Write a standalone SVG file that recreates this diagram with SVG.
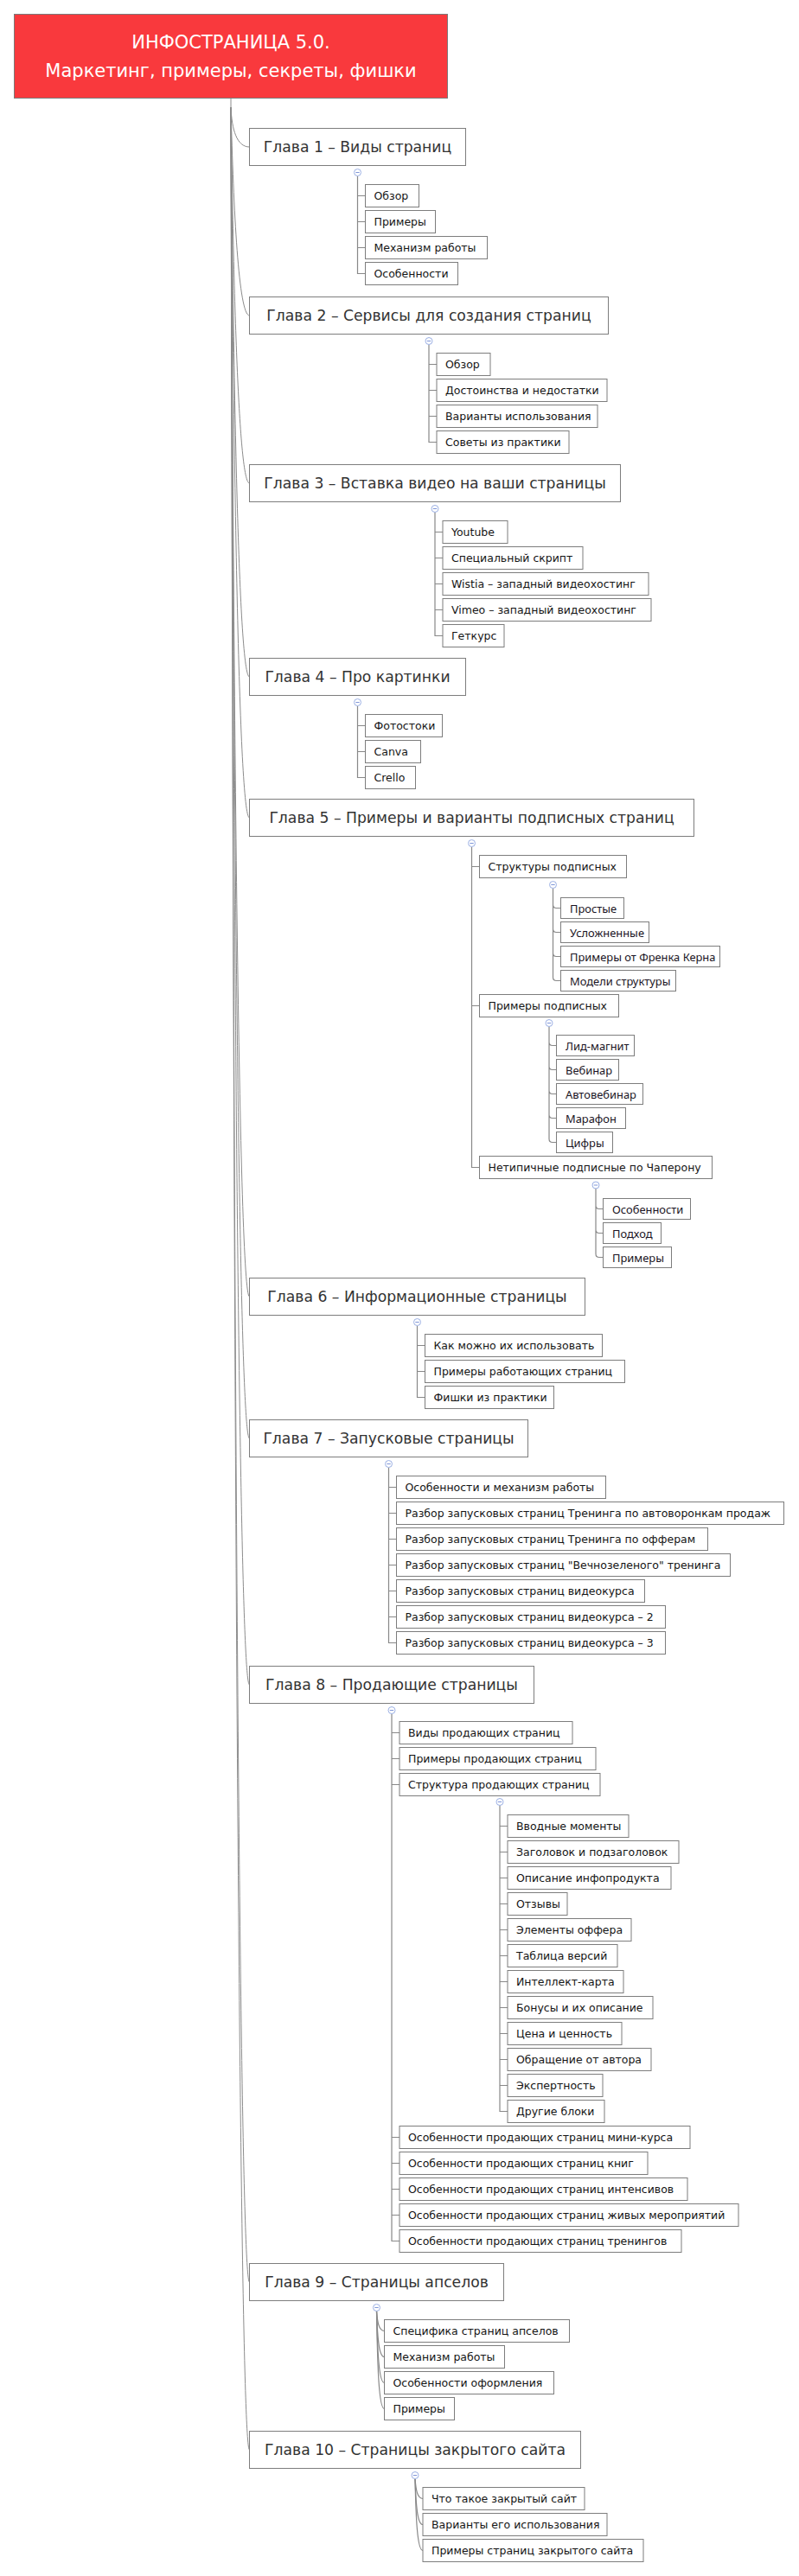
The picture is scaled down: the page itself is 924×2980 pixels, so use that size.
<svg xmlns="http://www.w3.org/2000/svg" xmlns:xlink="http://www.w3.org/1999/xlink" width="924" height="2980" viewBox="0 0 924 2980">
<style>
.bg{fill:#ffffff}
.root{fill:#f9393d;stroke:#7a7a7a;stroke-width:1}
.rt{font-family:"DejaVu Sans","Liberation Sans",sans-serif;font-size:21px;fill:#ffffff;text-anchor:middle}
.box{fill:#ffffff;stroke:#7d7d7d;stroke-width:1}
.ch{font-family:"DejaVu Sans","Liberation Sans",sans-serif;font-size:17.2px;fill:#333333;text-anchor:middle}
.t{font-family:"DejaVu Sans","Liberation Sans",sans-serif;font-size:12.5px;fill:#151515}
.s{font-family:"Noto Sans","Open Sans","Liberation Sans",sans-serif;font-size:12.9px;fill:#1a1424}
.ln{fill:none;stroke:#888888;stroke-width:1.2}
.tr{fill:none;stroke:#8c8c8c;stroke-width:1}
.tg circle{fill:#ffffff;stroke:#9bb0e4;stroke-width:1}
.tg line{stroke:#7f96d8;stroke-width:1}
</style>
<defs>
<g id="tog" class="tg"><circle cx="0" cy="0" r="4"/><line x1="-2.2" y1="0" x2="2.2" y2="0"/></g>
</defs>
<rect class="bg" x="0" y="0" width="924" height="2980"/>

<g id="connectors">
  <path class="tr" d="M267,114 V124"/>
  <path class="tr" d="M267,124 C268,150 274,170 288.5,170"/>
  <path class="tr" d="M267,124 C270,244 276,365 288.5,365"/>
  <path class="tr" d="M267,124 C270,341 276,559 288.5,559"/>
  <path class="tr" d="M267,124 C270,453 276,783 288.5,783"/>
  <path class="tr" d="M267,124 C270,535 276,946 288.5,946"/>
  <path class="tr" d="M267,124 C270,812 276,1500 288.5,1500"/>
  <path class="tr" d="M267,124 C270,894 276,1664 288.5,1664"/>
  <path class="tr" d="M267,124 C270,1036 276,1949 288.5,1949"/>
  <path class="tr" d="M267,124 C270,1382 276,2640 288.5,2640"/>
  <path class="tr" d="M267,124 C270,1479 276,2834 288.5,2834"/>

  <path class="ln" d="M413.5,203.5 V316.5 H422.5 M413.5,226.5 H422.5 M413.5,256.5 H422.5 M413.5,286.5 H422.5"/>
  <path class="ln" d="M496,398.5 V511.5 H505 M496,421.5 H505 M496,451.5 H505 M496,481.5 H505"/>
  <path class="ln" d="M503,592.5 V735.5 H512 M503,615.5 H512 M503,645.5 H512 M503,675.5 H512 M503,705.5 H512"/>
  <path class="ln" d="M413.5,816.5 V899.5 H422.5 M413.5,839.5 H422.5 M413.5,869.5 H422.5"/>
  <path class="ln" d="M545.5,979.5 V1350.5 H554.5 M545.5,1002.5 H554.5 M545.5,1163.5 H554.5"/>
  <path class="ln" d="M639.5,1027.5 V1046.5 Q639.5,1050.5 643.5,1050.5 H648.5 M639.5,1046.5 V1074.5 Q639.5,1078.5 643.5,1078.5 H648.5 M639.5,1074.5 V1102.5 Q639.5,1106.5 643.5,1106.5 H648.5 M639.5,1102.5 V1130.5 Q639.5,1134.5 643.5,1134.5 H648.5"/>
  <path class="ln" d="M635,1187.5 V1205.5 Q635,1209.5 639,1209.5 H643.5 M635,1205.5 V1233.5 Q635,1237.5 639,1237.5 H643.5 M635,1233.5 V1261.5 Q635,1265.5 639,1265.5 H643.5 M635,1261.5 V1289.5 Q635,1293.5 639,1293.5 H643.5 M635,1289.5 V1317.5 Q635,1321.5 639,1321.5 H643.5"/>
  <path class="ln" d="M689,1375 V1394.5 Q689,1398.5 693,1398.5 H697.5 M689,1394.5 V1422.5 Q689,1426.5 693,1426.5 H697.5 M689,1422.5 V1450.5 Q689,1454.5 693,1454.5 H697.5"/>
  <path class="ln" d="M482.5,1533.5 V1616.5 H491.5 M482.5,1556.5 H491.5 M482.5,1586.5 H491.5"/>
  <path class="ln" d="M449.5,1697.5 V1900.5 H458.5 M449.5,1720.5 H458.5 M449.5,1750.5 H458.5 M449.5,1780.5 H458.5 M449.5,1810.5 H458.5 M449.5,1840.5 H458.5 M449.5,1870.5 H458.5"/>
  <path class="ln" d="M453,1982.5 V2592.5 H462 M453,2004.5 H462 M453,2034.5 H462 M453,2064.5 H462 M453,2472.5 H462 M453,2502.5 H462 M453,2532.5 H462 M453,2562.5 H462"/>
  <path class="ln" d="M578,2088.5 V2442.5 H587 M578,2112.5 H587 M578,2142.5 H587 M578,2172.5 H587 M578,2202.5 H587 M578,2232.5 H587 M578,2262.5 H587 M578,2292.5 H587 M578,2322.5 H587 M578,2352.5 H587 M578,2382.5 H587 M578,2412.5 H587"/>
  <path class="ln" d="M435.5,2673.5 C436.5,2686 438,2696.5 444.5,2696.5"/>
  <path class="ln" d="M435.5,2673.5 C436.5,2703 438,2726.5 444.5,2726.5"/>
  <path class="ln" d="M435.5,2673.5 C436.5,2719 438,2756.5 444.5,2756.5"/>
  <path class="ln" d="M435.5,2673.5 C436.5,2736 438,2786.5 444.5,2786.5"/>
  <path class="ln" d="M480,2867.5 C481,2880 482.5,2890.5 489,2890.5"/>
  <path class="ln" d="M480,2867.5 C481,2897 482.5,2920.5 489,2920.5"/>
  <path class="ln" d="M480,2867.5 C481,2913 482.5,2950.5 489,2950.5"/>

  <use xlink:href="#tog" href="#tog" x="413.5" y="199.5"/>
  <use xlink:href="#tog" href="#tog" x="496" y="394.5"/>
  <use xlink:href="#tog" href="#tog" x="503" y="588.5"/>
  <use xlink:href="#tog" href="#tog" x="413.5" y="812.5"/>
  <use xlink:href="#tog" href="#tog" x="545.5" y="975.5"/>
  <use xlink:href="#tog" href="#tog" x="639.5" y="1023.5"/>
  <use xlink:href="#tog" href="#tog" x="635" y="1183.5"/>
  <use xlink:href="#tog" href="#tog" x="689" y="1371"/>
  <use xlink:href="#tog" href="#tog" x="482.5" y="1529.5"/>
  <use xlink:href="#tog" href="#tog" x="449.5" y="1693.5"/>
  <use xlink:href="#tog" href="#tog" x="453" y="1978.5"/>
  <use xlink:href="#tog" href="#tog" x="578" y="2084.5"/>
  <use xlink:href="#tog" href="#tog" x="435.5" y="2669.5"/>
  <use xlink:href="#tog" href="#tog" x="480" y="2863.5"/>
</g>

<g id="root">
  <rect class="root" x="16.5" y="16.5" width="501" height="97"/>
  <text class="rt" x="267" y="56">ИНФОСТРАНИЦА 5.0.</text>
  <text class="rt" x="267" y="89">Маркетинг, примеры, секреты, фишки</text>
</g>

<g id="ch1"><rect class="box" x="288.5" y="148.5" width="250" height="43"/><text class="ch" x="413.5" y="175.5">Глава 1 – Виды страниц</text></g>
<g id="ch1-1"><rect class="box" x="422.5" y="213.5" width="62" height="26"/><text class="t" x="432.5" y="231">Обзор</text></g>
<g id="ch1-2"><rect class="box" x="422.5" y="243.5" width="81" height="26"/><text class="t" x="432.5" y="261">Примеры</text></g>
<g id="ch1-3"><rect class="box" x="422.5" y="273.5" width="141" height="26"/><text class="t" x="432.5" y="291">Механизм работы</text></g>
<g id="ch1-4"><rect class="box" x="422.5" y="303.5" width="107" height="26"/><text class="t" x="432.5" y="321">Особенности</text></g>

<g id="ch2"><rect class="box" x="288.5" y="343.5" width="415" height="43"/><text class="ch" x="496" y="370.5">Глава 2 – Сервисы для создания страниц</text></g>
<g id="ch2-1"><rect class="box" x="505" y="408.5" width="62" height="26"/><text class="t" x="515" y="426">Обзор</text></g>
<g id="ch2-2"><rect class="box" x="505" y="438.5" width="197" height="26"/><text class="t" x="515" y="456">Достоинства и недостатки</text></g>
<g id="ch2-3"><rect class="box" x="505" y="468.5" width="186" height="26"/><text class="t" x="515" y="486">Варианты использования</text></g>
<g id="ch2-4"><rect class="box" x="505" y="498.5" width="153" height="26"/><text class="t" x="515" y="516">Советы из практики</text></g>

<g id="ch3"><rect class="box" x="288.5" y="537.5" width="429" height="43"/><text class="ch" x="503" y="564.5">Глава 3 – Вставка видео на ваши страницы</text></g>
<g id="ch3-1"><rect class="box" x="512" y="602.5" width="75" height="26"/><text class="t" x="522" y="620">Youtube</text></g>
<g id="ch3-2"><rect class="box" x="512" y="632.5" width="162" height="26"/><text class="t" x="522" y="650">Специальный скрипт</text></g>
<g id="ch3-3"><rect class="box" x="512" y="662.5" width="238" height="26"/><text class="t" x="522" y="680">Wistia – западный видеохостинг</text></g>
<g id="ch3-4"><rect class="box" x="512" y="692.5" width="241" height="26"/><text class="t" x="522" y="710">Vimeo – западный видеохостинг</text></g>
<g id="ch3-5"><rect class="box" x="512" y="722.5" width="71" height="26"/><text class="t" x="522" y="740">Геткурс</text></g>

<g id="ch4"><rect class="box" x="288.5" y="761.5" width="250" height="43"/><text class="ch" x="413.5" y="788.5">Глава 4 – Про картинки</text></g>
<g id="ch4-1"><rect class="box" x="422.5" y="826.5" width="89" height="26"/><text class="t" x="432.5" y="844">Фотостоки</text></g>
<g id="ch4-2"><rect class="box" x="422.5" y="856.5" width="64" height="26"/><text class="t" x="432.5" y="874">Canva</text></g>
<g id="ch4-3"><rect class="box" x="422.5" y="886.5" width="58" height="26"/><text class="t" x="432.5" y="904">Crello</text></g>

<g id="ch5"><rect class="box" x="288.5" y="924.5" width="514" height="43"/><text class="ch" x="545.5" y="951.5">Глава 5 – Примеры и варианты подписных страниц</text></g>
<g id="ch5-1"><rect class="box" x="554.5" y="989.5" width="170" height="26"/><text class="t" x="564.5" y="1007">Структуры подписных</text></g>
<g id="ch5-1-1"><rect class="box" x="648.5" y="1038.5" width="73" height="24"/><text class="s" x="659" y="1055.5">Простые</text></g>
<g id="ch5-1-2"><rect class="box" x="648.5" y="1066.5" width="102" height="24"/><text class="s" x="659" y="1083.5">Усложненные</text></g>
<g id="ch5-1-3"><rect class="box" x="648.5" y="1094.5" width="184" height="24"/><text class="s" x="659" y="1111.5">Примеры от Френка Керна</text></g>
<g id="ch5-1-4"><rect class="box" x="648.5" y="1122.5" width="133" height="24"/><text class="s" x="659" y="1139.5">Модели структуры</text></g>
<g id="ch5-2"><rect class="box" x="554.5" y="1150.5" width="161" height="26"/><text class="t" x="564.5" y="1168">Примеры подписных</text></g>
<g id="ch5-2-1"><rect class="box" x="643.5" y="1197.5" width="90" height="24"/><text class="s" x="654" y="1214.5">Лид-магнит</text></g>
<g id="ch5-2-2"><rect class="box" x="643.5" y="1225.5" width="72" height="24"/><text class="s" x="654" y="1242.5">Вебинар</text></g>
<g id="ch5-2-3"><rect class="box" x="643.5" y="1253.5" width="100" height="24"/><text class="s" x="654" y="1270.5">Автовебинар</text></g>
<g id="ch5-2-4"><rect class="box" x="643.5" y="1281.5" width="80" height="24"/><text class="s" x="654" y="1298.5">Марафон</text></g>
<g id="ch5-2-5"><rect class="box" x="643.5" y="1309.5" width="65" height="24"/><text class="s" x="654" y="1326.5">Цифры</text></g>
<g id="ch5-3"><rect class="box" x="554.5" y="1337.5" width="269" height="26"/><text class="t" x="564.5" y="1355">Нетипичные подписные по Чаперону</text></g>
<g id="ch5-3-1"><rect class="box" x="697.5" y="1386.5" width="101" height="24"/><text class="s" x="708" y="1403.5">Особенности</text></g>
<g id="ch5-3-2"><rect class="box" x="697.5" y="1414.5" width="67" height="24"/><text class="s" x="708" y="1431.5">Подход</text></g>
<g id="ch5-3-3"><rect class="box" x="697.5" y="1442.5" width="79" height="24"/><text class="s" x="708" y="1459.5">Примеры</text></g>

<g id="ch6"><rect class="box" x="288.5" y="1478.5" width="388" height="43"/><text class="ch" x="482.5" y="1505.5">Глава 6 – Информационные страницы</text></g>
<g id="ch6-1"><rect class="box" x="491.5" y="1543.5" width="205" height="26"/><text class="t" x="501.5" y="1561">Как можно их использовать</text></g>
<g id="ch6-2"><rect class="box" x="491.5" y="1573.5" width="231" height="26"/><text class="t" x="501.5" y="1591">Примеры работающих страниц</text></g>
<g id="ch6-3"><rect class="box" x="491.5" y="1603.5" width="149" height="26"/><text class="t" x="501.5" y="1621">Фишки из практики</text></g>

<g id="ch7"><rect class="box" x="288.5" y="1642.5" width="322" height="43"/><text class="ch" x="449.5" y="1669.5">Глава 7 – Запусковые страницы</text></g>
<g id="ch7-1"><rect class="box" x="458.5" y="1707.5" width="242" height="26"/><text class="t" x="468.5" y="1725">Особенности и механизм работы</text></g>
<g id="ch7-2"><rect class="box" x="458.5" y="1737.5" width="448" height="26"/><text class="t" x="468.5" y="1755">Разбор запусковых страниц Тренинга по автоворонкам продаж</text></g>
<g id="ch7-3"><rect class="box" x="458.5" y="1767.5" width="360" height="26"/><text class="t" x="468.5" y="1785">Разбор запусковых страниц Тренинга по офферам</text></g>
<g id="ch7-4"><rect class="box" x="458.5" y="1797.5" width="386" height="26"/><text class="t" x="468.5" y="1815">Разбор запусковых страниц "Вечнозеленого" тренинга</text></g>
<g id="ch7-5"><rect class="box" x="458.5" y="1827.5" width="287" height="26"/><text class="t" x="468.5" y="1845">Разбор запусковых страниц видеокурса</text></g>
<g id="ch7-6"><rect class="box" x="458.5" y="1857.5" width="311" height="26"/><text class="t" x="468.5" y="1875">Разбор запусковых страниц видеокурса – 2</text></g>
<g id="ch7-7"><rect class="box" x="458.5" y="1887.5" width="311" height="26"/><text class="t" x="468.5" y="1905">Разбор запусковых страниц видеокурса – 3</text></g>

<g id="ch8"><rect class="box" x="288.5" y="1927.5" width="329" height="43"/><text class="ch" x="453" y="1954.5">Глава 8 – Продающие страницы</text></g>
<g id="ch8-1"><rect class="box" x="462" y="1991.5" width="200" height="26"/><text class="t" x="472" y="2009">Виды продающих страниц</text></g>
<g id="ch8-2"><rect class="box" x="462" y="2021.5" width="227" height="26"/><text class="t" x="472" y="2039">Примеры продающих страниц</text></g>
<g id="ch8-3"><rect class="box" x="462" y="2051.5" width="232" height="26"/><text class="t" x="472" y="2069">Структура продающих страниц</text></g>
<g id="ch8-3-1"><rect class="box" x="587" y="2099.5" width="140" height="26"/><text class="t" x="597" y="2117">Вводные моменты</text></g>
<g id="ch8-3-2"><rect class="box" x="587" y="2129.5" width="198" height="26"/><text class="t" x="597" y="2147">Заголовок и подзаголовок</text></g>
<g id="ch8-3-3"><rect class="box" x="587" y="2159.5" width="189" height="26"/><text class="t" x="597" y="2177">Описание инфопродукта</text></g>
<g id="ch8-3-4"><rect class="box" x="587" y="2189.5" width="69" height="26"/><text class="t" x="597" y="2207">Отзывы</text></g>
<g id="ch8-3-5"><rect class="box" x="587" y="2219.5" width="143" height="26"/><text class="t" x="597" y="2237">Элементы оффера</text></g>
<g id="ch8-3-6"><rect class="box" x="587" y="2249.5" width="127" height="26"/><text class="t" x="597" y="2267">Таблица версий</text></g>
<g id="ch8-3-7"><rect class="box" x="587" y="2279.5" width="134" height="26"/><text class="t" x="597" y="2297">Интеллект-карта</text></g>
<g id="ch8-3-8"><rect class="box" x="587" y="2309.5" width="168" height="26"/><text class="t" x="597" y="2327">Бонусы и их описание</text></g>
<g id="ch8-3-9"><rect class="box" x="587" y="2339.5" width="132" height="26"/><text class="t" x="597" y="2357">Цена и ценность</text></g>
<g id="ch8-3-10"><rect class="box" x="587" y="2369.5" width="166" height="26"/><text class="t" x="597" y="2387">Обращение от автора</text></g>
<g id="ch8-3-11"><rect class="box" x="587" y="2399.5" width="110" height="26"/><text class="t" x="597" y="2417">Экспертность</text></g>
<g id="ch8-3-12"><rect class="box" x="587" y="2429.5" width="112" height="26"/><text class="t" x="597" y="2447">Другие блоки</text></g>
<g id="ch8-4"><rect class="box" x="462" y="2459.5" width="336" height="26"/><text class="t" x="472" y="2477">Особенности продающих страниц мини-курса</text></g>
<g id="ch8-5"><rect class="box" x="462" y="2489.5" width="287" height="26"/><text class="t" x="472" y="2507">Особенности продающих страниц книг</text></g>
<g id="ch8-6"><rect class="box" x="462" y="2519.5" width="333" height="26"/><text class="t" x="472" y="2537">Особенности продающих страниц интенсивов</text></g>
<g id="ch8-7"><rect class="box" x="462" y="2549.5" width="392" height="26"/><text class="t" x="472" y="2567">Особенности продающих страниц живых мероприятий</text></g>
<g id="ch8-8"><rect class="box" x="462" y="2579.5" width="326" height="26"/><text class="t" x="472" y="2597">Особенности продающих страниц тренингов</text></g>

<g id="ch9"><rect class="box" x="288.5" y="2618.5" width="294" height="43"/><text class="ch" x="435.5" y="2645.5">Глава 9 – Страницы апселов</text></g>
<g id="ch9-1"><rect class="box" x="444.5" y="2683.5" width="214" height="26"/><text class="t" x="454.5" y="2701">Специфика страниц апселов</text></g>
<g id="ch9-2"><rect class="box" x="444.5" y="2713.5" width="139" height="26"/><text class="t" x="454.5" y="2731">Механизм работы</text></g>
<g id="ch9-3"><rect class="box" x="444.5" y="2743.5" width="196" height="26"/><text class="t" x="454.5" y="2761">Особенности оформления</text></g>
<g id="ch9-4"><rect class="box" x="444.5" y="2773.5" width="81" height="26"/><text class="t" x="454.5" y="2791">Примеры</text></g>

<g id="ch10"><rect class="box" x="288.5" y="2812.5" width="383" height="43"/><text class="ch" x="480" y="2839.5">Глава 10 – Страницы закрытого сайта</text></g>
<g id="ch10-1"><rect class="box" x="489" y="2877.5" width="187" height="26"/><text class="t" x="499" y="2895">Что такое закрытый сайт</text></g>
<g id="ch10-2"><rect class="box" x="489" y="2907.5" width="213" height="26"/><text class="t" x="499" y="2925">Варианты его использования</text></g>
<g id="ch10-3"><rect class="box" x="489" y="2937.5" width="255" height="26"/><text class="t" x="499" y="2955">Примеры страниц закрытого сайта</text></g>
</svg>
